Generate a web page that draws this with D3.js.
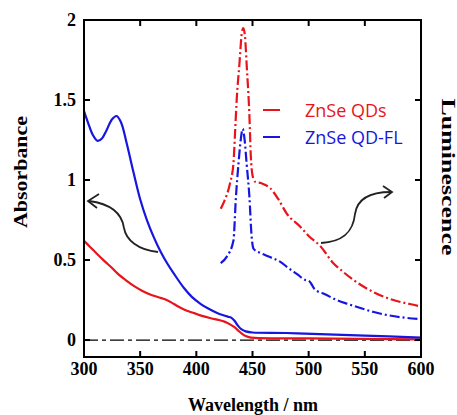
<!DOCTYPE html>
<html>
<head>
<meta charset="utf-8">
<script src="https://cdn.jsdelivr.net/npm/d3@7"></script>
<style>
  html, body { margin: 0; padding: 0; background: #fff; }
  svg { display: block; }
</style>
</head>
<body>
<svg id="chart" width="457" height="415"></svg>
<script>
// ---- Data ----
const xTicks = [300, 350, 400, 450, 500, 550, 600];
const yTicks = [0, 0.5, 1, 1.5, 2];
const yTickLabels = ["0", "0.5", "1", "1.5", "2"];

const absBlueX = [300,304,308,312,316,320,325,329,333,338,344,350,356,362,368,374,380,389,396,404,411,419,424,428,431,434,437,440,444,450,480,510,550,600];
const absBlueY = [1.43,1.35,1.28,1.245,1.26,1.31,1.38,1.40,1.36,1.23,1.05,0.88,0.75,0.645,0.555,0.48,0.415,0.325,0.27,0.225,0.195,0.167,0.155,0.146,0.14,0.12,0.09,0.068,0.054,0.047,0.044,0.037,0.028,0.015];

const absRedX = [300,305,310,318,325,330,338,345,352,360,367,372,378,383,390,398,405,413,420,425,430,434,438,442,446,452,500,600];
const absRedY = [0.62,0.585,0.55,0.495,0.45,0.415,0.37,0.335,0.307,0.282,0.266,0.255,0.234,0.213,0.188,0.168,0.151,0.136,0.125,0.115,0.098,0.08,0.055,0.032,0.02,0.013,0.01,0.004];

const lumRedX = [421.7,425,430,433,434.5,436,438.3,440.5,441.8,443.3,444.8,447.2,448.5,450,452.2,458,465.6,473,480.5,492.3,500,510,522,530,540,557.6,575.4,590,600];
const lumRedY = [0.82,0.87,0.98,1.10,1.30,1.51,1.72,1.92,1.95,1.90,1.72,1.41,1.15,1.03,0.99,0.98,0.95,0.88,0.79,0.71,0.65,0.59,0.48,0.43,0.375,0.30,0.25,0.225,0.21];

const lumBlueX = [421.7,427,433,435.3,437.5,439.5,441.3,443,444.8,447.2,449.2,451,456.7,465,474.5,482,490,497,500,502,505,515,525,535,546,558,570,585,600];
const lumBlueY = [0.48,0.52,0.62,0.90,1.10,1.25,1.32,1.25,1.10,0.90,0.65,0.57,0.545,0.52,0.49,0.45,0.41,0.375,0.37,0.355,0.32,0.285,0.25,0.225,0.20,0.175,0.156,0.14,0.13];

const legendLabels = ["ZnSe QDs", "ZnSe QD-FL"];
const RED = "#e8141b", BLUE = "#1616e0";

// ---- Scales ----
const svg = d3.select("#chart");
const x = d3.scaleLinear().domain([300, 600]).range([84, 421]);
const y = d3.scaleLinear().domain([-0.106, 2]).range([357, 20]);
const X0 = x(300), X1 = x(600), Y0 = y(-0.106), Y1 = y(2);

const serif = "'Liberation Serif','Times New Roman',serif";
const sans = "'Open Sans','Liberation Sans',sans-serif";

const lineSmooth = d3.line().x(d => x(d[0])).y(d => y(d[1])).curve(d3.curveCatmullRom.alpha(0.5));
const line = d3.line().x(d => x(d[0])).y(d => y(d[1])).curve(d3.curveMonotoneX);
const zip = (a, b) => a.map((v, i) => [v, b[i]]);

// baseline at zero
svg.append("path").attr("d", line([[300, 0], [600, 0]]))
  .attr("fill", "none").attr("stroke", "#000").attr("stroke-width", 1.2)
  .attr("stroke-dasharray", "14,4,4,4");

// absorbance curves
svg.append("path").attr("d", lineSmooth(zip(absRedX, absRedY)))
  .attr("fill", "none").attr("stroke", RED).attr("stroke-width", 2.2);
svg.append("path").attr("d", lineSmooth(zip(absBlueX, absBlueY)))
  .attr("fill", "none").attr("stroke", BLUE).attr("stroke-width", 2.2);

// luminescence curves
svg.append("path").attr("d", line(zip(lumRedX, lumRedY)))
  .attr("fill", "none").attr("stroke", RED).attr("stroke-width", 2.2)
  .attr("stroke-dasharray", "10,3,2,3");
svg.append("path").attr("d", line(zip(lumBlueX, lumBlueY)))
  .attr("fill", "none").attr("stroke", BLUE).attr("stroke-width", 2.2)
  .attr("stroke-dasharray", "10,3,2,3");

// frame
svg.append("rect").attr("x", X0).attr("y", Y1).attr("width", X1 - X0).attr("height", Y0 - Y1)
  .attr("fill", "none").attr("stroke", "#000").attr("stroke-width", 2);

// ticks
const tl = 6;
const g = svg.append("g").attr("stroke", "#000").attr("stroke-width", 2);
xTicks.slice(1, -1).forEach(t => {
  g.append("line").attr("x1", x(t)).attr("x2", x(t)).attr("y1", Y0).attr("y2", Y0 - tl);
  g.append("line").attr("x1", x(t)).attr("x2", x(t)).attr("y1", Y1).attr("y2", Y1 + tl);
});
yTicks.slice(0, -1).forEach(t => {
  g.append("line").attr("x1", X0).attr("x2", X0 + tl).attr("y1", y(t)).attr("y2", y(t));
  g.append("line").attr("x1", X1).attr("x2", X1 - tl).attr("y1", y(t)).attr("y2", y(t));
});

// tick labels
svg.append("g").selectAll("text").data(xTicks).join("text")
  .attr("x", d => x(d)).attr("y", 375).attr("text-anchor", "middle")
  .attr("font-family", serif).attr("font-weight", "bold").attr("font-size", 18)
  .text(d => d);
svg.append("g").selectAll("text").data(yTicks).join("text")
  .attr("x", 76).attr("y", d => y(d) + 6).attr("text-anchor", "end")
  .attr("font-family", serif).attr("font-weight", "bold").attr("font-size", 18)
  .text((d, i) => yTickLabels[i]);

// axis titles
svg.append("text").attr("x", 253).attr("y", 411).attr("text-anchor", "middle")
  .attr("font-family", serif).attr("font-weight", "bold").attr("font-size", 18)
  .text("Wavelength / nm");
svg.append("text").attr("transform", "translate(27,172) rotate(-90)").attr("text-anchor", "middle")
  .attr("font-family", serif).attr("font-weight", "bold").attr("font-size", 18)
  .attr("textLength", 112).attr("lengthAdjust", "spacingAndGlyphs")
  .text("Absorbance");
svg.append("text").attr("transform", "translate(441.5,177) rotate(90)").attr("text-anchor", "middle")
  .attr("font-family", serif).attr("font-weight", "bold").attr("font-size", 18)
  .attr("textLength", 157).attr("lengthAdjust", "spacingAndGlyphs")
  .text("Luminescence");

// legend
const legColors = [RED, BLUE];
const legY = [110, 137];
legendLabels.forEach((lab, i) => {
  svg.append("line").attr("x1", 263).attr("x2", 280).attr("y1", legY[i]).attr("y2", legY[i])
    .attr("stroke", legColors[i]).attr("stroke-width", 2);
  svg.append("text").attr("x", 305).attr("y", legY[i] + 7)
    .attr("font-family", sans).attr("font-size", 18).attr("fill", legColors[i])
    .text(lab);
});

// curved arrows
const arrowStroke = "#222";
svg.append("path")
  .attr("d", "M158,252 C138,250 126,240 124,228 C122,214 112,204 89,201")
  .attr("fill", "none").attr("stroke", arrowStroke).attr("stroke-width", 1.8);
svg.append("path").attr("d", "M99,194 L88,201 L97,208")
  .attr("fill", "none").attr("stroke", arrowStroke).attr("stroke-width", 1.8);
svg.append("path")
  .attr("d", "M321,243 C342,242 353,233 355,214 C357,200 368,192 391,192")
  .attr("fill", "none").attr("stroke", arrowStroke).attr("stroke-width", 1.8);
svg.append("path").attr("d", "M383,186 L392,192 L384,198")
  .attr("fill", "none").attr("stroke", arrowStroke).attr("stroke-width", 1.8);
</script>
</body>
</html>
